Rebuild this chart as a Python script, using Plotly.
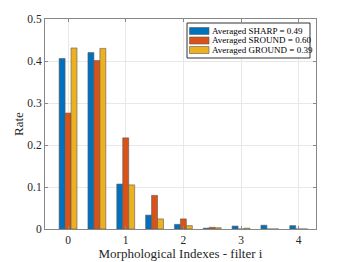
import plotly.graph_objects as go

x_pos = [0, 0.5, 1, 1.5, 2, 2.5, 3, 3.5, 4]
sharp = [0.406, 0.420, 0.107, 0.033, 0.011, 0.002, 0.007, 0.009, 0.008]
sround = [0.276, 0.401, 0.217, 0.080, 0.024, 0.004, 0.0, 0.0, 0.0]
ground = [0.431, 0.430, 0.105, 0.024, 0.008, 0.003, 0.002, 0.0, 0.0]
names = ["Averaged SHARP = 0.49", "Averaged SROUND = 0.60", "Averaged GROUND = 0.39"]
colors = ["#0072BD", "#D95319", "#EDB120"]
x_ticks = [0, 1, 2, 3, 4]
y_ticks = [0, 0.1, 0.2, 0.3, 0.4, 0.5]

W, H = 349, 262
L, R, T, B = 45, 33, 19, 33
pw, ph = W - L - R, H - T - B

def px(xp):
    return (xp - L) / pw

def py(yp):
    return (H - B - yp) / ph

fig = go.Figure()
for vals, nm, c in zip([sharp, sround, ground], names, colors):
    fig.add_trace(go.Bar(x=x_pos, y=vals, name=nm,
                         marker=dict(color=c, line=dict(color="#5a5a5a", width=0.6))))

font = "Liberation Serif"

# custom compact legend (MATLAB style)
shapes = [dict(type="rect", xref="paper", yref="paper",
               x0=px(187), x1=px(310), y0=py(58), y1=py(23),
               fillcolor="white", line=dict(color="#333", width=1), layer="above")]
annotations = []
row_y = [31, 40.5, 50]
for nm, c, ry in zip(names, colors, row_y):
    shapes.append(dict(type="rect", xref="paper", yref="paper",
                       x0=px(189.5), x1=px(209), y0=py(ry + 3.5), y1=py(ry - 3.5),
                       fillcolor=c, line=dict(color="#5a5a5a", width=0.6), layer="above"))
    annotations.append(dict(xref="paper", yref="paper", x=px(210), y=py(ry),
                            xanchor="left", yanchor="middle", text=nm, showarrow=False,
                            font=dict(family=font, size=9, color="#000")))

# y-axis title placed like MATLAB
annotations.append(dict(xref="paper", yref="paper", x=px(18), y=0.5, xanchor="center",
                        yanchor="middle", text="Rate", textangle=-90, showarrow=False,
                        font=dict(family=font, size=13, color="#262626")))

fig.update_layout(
    template="none",
    width=W, height=H,
    margin=dict(l=L, r=R, t=T, b=B, pad=0),
    paper_bgcolor="white", plot_bgcolor="white",
    barmode="group", bargap=0.38, bargroupgap=0,
    font=dict(family=font, size=11, color="#262626"),
    showlegend=False,
    shapes=shapes, annotations=annotations,
)
fig.update_xaxes(range=[-0.4, 4.3], tickvals=x_ticks, ticktext=[str(t) for t in x_ticks],
                 automargin=False,
                 showgrid=True, gridcolor="#e8e8e8", gridwidth=1,
                 showline=True, linecolor="#888", linewidth=1, mirror="ticks",
                 ticks="inside", ticklen=3, tickcolor="#888", zeroline=False,
                 tickfont=dict(family=font, size=11.5),
                 title=dict(text="Morphological Indexes - filter i",
                            font=dict(family=font, size=13), standoff=4))
fig.update_yaxes(range=[0, 0.5], tickvals=y_ticks, ticktext=["0", "0.1", "0.2", "0.3", "0.4", "0.5"],
                 automargin=False,
                 showgrid=True, gridcolor="#e8e8e8", gridwidth=1,
                 showline=True, linecolor="#888", linewidth=1, mirror="ticks",
                 ticks="inside", ticklen=3, tickcolor="#888", zeroline=False,
                 tickfont=dict(family=font, size=11.5))
fig.write_html("out.html", config={"displayModeBar": False},
               post_script="document.body.style.margin='0';")
